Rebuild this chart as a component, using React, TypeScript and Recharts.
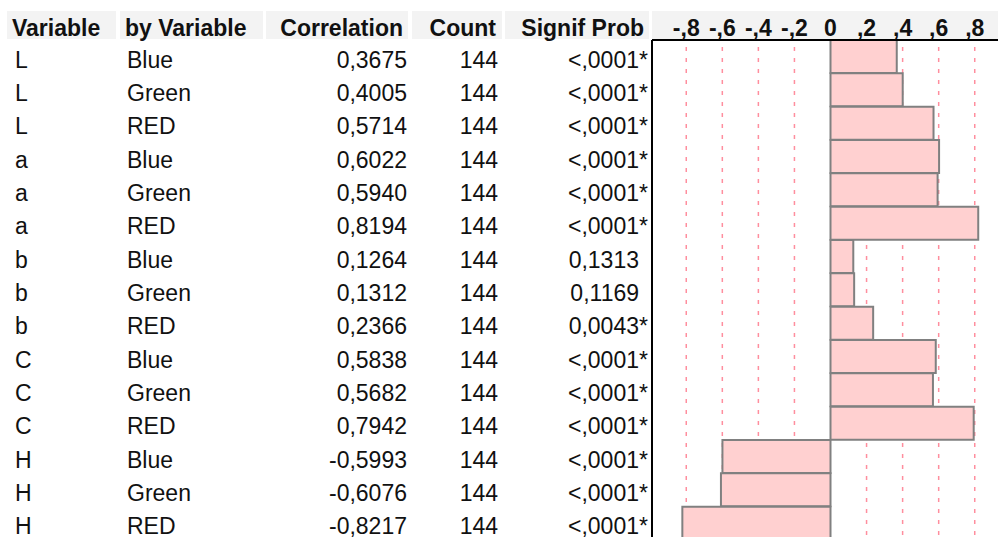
import { BarChart, Bar, XAxis, YAxis, CartesianGrid } from "recharts";

const variables = ["L", "L", "L", "a", "a", "a", "b", "b", "b", "C", "C", "C", "H", "H", "H"];
const byVariables = ["Blue", "Green", "RED", "Blue", "Green", "RED", "Blue", "Green", "RED", "Blue", "Green", "RED", "Blue", "Green", "RED"];
const correlations = [
  0.3675, 0.4005, 0.5714, 0.6022, 0.594, 0.8194, 0.1264, 0.1312, 0.2366, 0.5838, 0.5682, 0.7942,
  -0.5993, -0.6076, -0.8217,
];
const counts = [144, 144, 144, 144, 144, 144, 144, 144, 144, 144, 144, 144, 144, 144, 144];
const signifProbs = [
  "<,0001*", "<,0001*", "<,0001*", "<,0001*", "<,0001*", "<,0001*", "0,1313", "0,1169", "0,0043*",
  "<,0001*", "<,0001*", "<,0001*", "<,0001*", "<,0001*", "<,0001*",
];
const axisTicks = [-0.8, -0.6, -0.4, -0.2, 0, 0.2, 0.4, 0.6, 0.8];
const gridValues = [-0.8, -0.6, -0.4, -0.2, 0.2, 0.4, 0.6, 0.8];

const rows = correlations.map((corr, i) => ({ id: `r${i}`, corr }));

const FONT = "'Liberation Sans', Arial, sans-serif";
const TEXT = "#111";
const HEADER_BG = "#f3f3f3";

// jmp style decimal comma, leading zero dropped on axis
const fmtAxis = (v: number) => {
  if (v === 0) return "0";
  const s = Math.abs(v).toFixed(1).replace("0.", ",");
  return v < 0 ? "-" + s : s;
};
const fmtCorr = (v: number) => v.toFixed(4).replace(".", ",");

function RowTick(props: any) {
  const { y, payload } = props;
  const i = payload.index;
  const base = y + 11;
  const p = signifProbs[i];
  const star = p.endsWith("*");
  const num = star ? p.slice(0, -1) : p;
  return (
    <g fontFamily={FONT} fontSize={23} fill={TEXT}>
      <text x={15} y={base}>{variables[i]}</text>
      <text x={127} y={base}>{byVariables[i]}</text>
      <text x={407} y={base} textAnchor="end">{fmtCorr(correlations[i])}</text>
      <text x={498} y={base} textAnchor="end">{counts[i]}</text>
      <text x={639} y={base} textAnchor="end">{num}</text>
      {star && <text x={639} y={base}>*</text>}
    </g>
  );
}

function HeaderRow() {
  const y = 36;
  return (
    <g fontFamily={FONT} fontSize={23} fontWeight="bold" fill={TEXT}>
      <text x={12} y={y}>Variable</text>
      <text x={125} y={y}>by Variable</text>
      <text x={403} y={y} textAnchor="end">Correlation</text>
      <text x={496} y={y} textAnchor="end">Count</text>
      <text x={644} y={y} textAnchor="end">Signif Prob</text>
    </g>
  );
}

function AxisTick(props: any) {
  const { x, payload } = props;
  return (
    <text x={x} y={36} textAnchor="middle" fontFamily={FONT} fontSize={23} fontWeight="bold" fill={TEXT}>
      {fmtAxis(payload.value)}
    </text>
  );
}

const headerBoxes = [
  [7, 116],
  [120, 263],
  [266, 408],
  [412, 502],
  [505, 649],
  [652, 998],
];

export default function App() {
  return (
    <div
      style={{
        position: "absolute",
        left: 0,
        top: 0,
        width: 998,
        height: 537,
        overflow: "hidden",
        background: "#fff",
      }}
    >
      {headerBoxes.map(([a, b], k) => (
        <div
          key={k}
          style={{ position: "absolute", left: a, top: 11, width: b - a, height: 28, background: HEADER_BG }}
        />
      ))}
      <div style={{ position: "absolute", left: 0, top: 0 }}>
        <BarChart
          width={1009}
          height={540}
          data={rows}
          layout="vertical"
          margin={{ top: 0, right: 0, bottom: 0, left: 0 }}
          barCategoryGap={0}
        >
          <CartesianGrid
            horizontal={false}
            verticalValues={gridValues}
            stroke="#ff8e9e"
            strokeWidth={1.5}
            strokeDasharray="0 7 4 0"
          />
          <XAxis
            type="number"
            orientation="top"
            domain={[-0.99, 0.99]}
            ticks={axisTicks}
            height={40}
            tickLine={false}
            axisLine={{ stroke: "#000", strokeWidth: 2 }}
            tick={<AxisTick />}
            allowDataOverflow
          />
          <YAxis
            type="category"
            dataKey="id"
            width={652}
            interval={0}
            tickLine={false}
            axisLine={{ stroke: "#000", strokeWidth: 2 }}
            tick={<RowTick />}
            label={<HeaderRow />}
          />
          <Bar dataKey="corr" fill="#ffd0d0" stroke="#808080" strokeWidth={2} isAnimationActive={false} />
        </BarChart>
      </div>
    </div>
  );
}
